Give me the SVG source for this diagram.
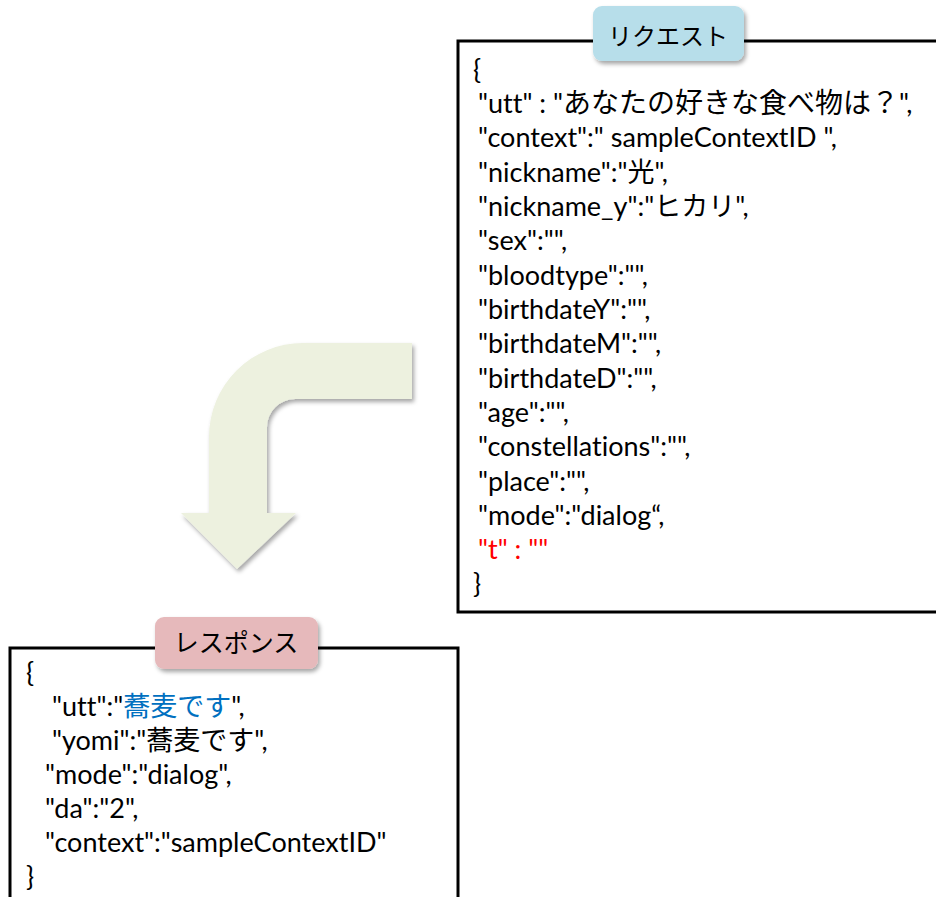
<svg xmlns="http://www.w3.org/2000/svg" width="936" height="897" viewBox="0 0 936 897">
<defs>
<filter id="sh" x="-20%" y="-20%" width="140%" height="150%">
<feDropShadow dx="2" dy="3" stdDeviation="2" flood-color="#000" flood-opacity="0.35"/>
</filter>
</defs>
<style>
.box{fill:#fff;stroke:#000;stroke-width:3}
.t{font-family:Lato,"Noto Sans CJK JP",sans-serif;font-size:27px;fill:#000;font-variant-ligatures:none}
.jp{font-size:28px}
.lbl{font-family:"Noto Sans CJK JP",sans-serif;font-size:24px;fill:#000;text-anchor:middle}
.red{fill:#FF0000}
.blue{fill:#0070C0}
</style>
<rect width="936" height="897" fill="#fff"/>
<g id="connectors">
<path d="M412,343 L303,343 A94,94 0 0 0 209,437 L209,513 L181,513 L237,569 L296,513 L267,513 L267,427 A28,28 0 0 1 295,399 L412,399 Z" fill="#EDF1DF" filter="url(#sh)"/>
</g>
<g id="request">
<rect class="box" x="458" y="41" width="500" height="571"/>
<rect x="593" y="6" width="151" height="55" rx="9" fill="#B7DEEA" filter="url(#sh)"/>
<text class="lbl" x="668" y="45">リクエスト</text>
<text class="t" x="473" y="79">{</text>
<text class="t" x="478" y="113">"utt" : "<tspan class="jp">あなたの好きな食べ物は？</tspan>",</text>
<text class="t" x="478" y="147">"context":" sampleContextID ",</text>
<text class="t" x="478" y="182">"nickname":"光",</text>
<text class="t" x="478" y="216">"nickname_y":"ヒカリ",</text>
<text class="t" x="478" y="250">"sex":"",</text>
<text class="t" x="478" y="285">"bloodtype":"",</text>
<text class="t" x="478" y="319">"birthdateY":"",</text>
<text class="t" x="478" y="353">"birthdateM":"",</text>
<text class="t" x="478" y="388">"birthdateD":"",</text>
<text class="t" x="478" y="422">"age":"",</text>
<text class="t" x="478" y="456">"constellations":"",</text>
<text class="t" x="478" y="491">"place":"",</text>
<text class="t" x="478" y="525">"mode":"dialog“,</text>
<text class="t red" x="478" y="559">"t" : ""</text>
<text class="t" x="473" y="593">}</text>
</g>
<g id="response">
<rect class="box" x="10" y="648" width="448" height="300"/>
<rect x="155" y="617" width="163" height="52" rx="9" fill="#E6B9BB" filter="url(#sh)"/>
<text class="lbl" x="236" y="652" style="font-size:25px">レスポンス</text>
<text class="t" x="26" y="682">{</text>
<text class="t" x="52" y="716">"utt":"<tspan class="blue">蕎麦です</tspan>",</text>
<text class="t" x="52" y="750">"yomi":"蕎麦です",</text>
<text class="t" x="45" y="784">"mode":"dialog",</text>
<text class="t" x="45" y="818">"da":"2",</text>
<text class="t" x="45" y="852">"context":"sampleContextID"</text>
<text class="t" x="26" y="886">}</text>
</g>
</svg>
